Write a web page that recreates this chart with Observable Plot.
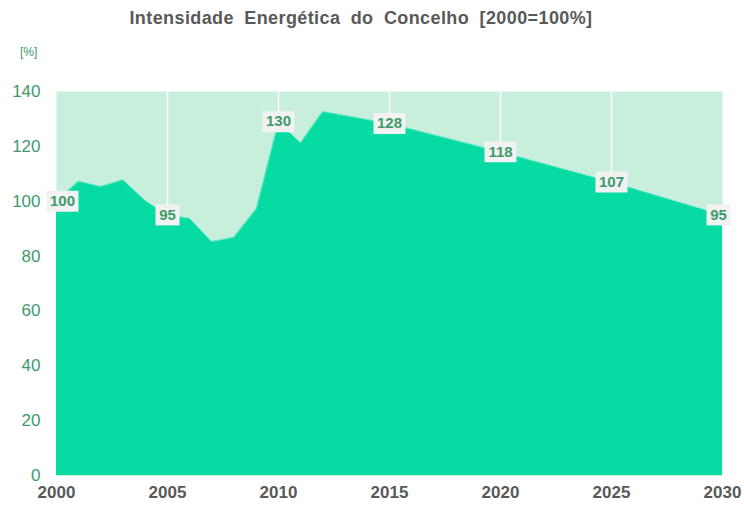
<!DOCTYPE html>
<html><head><meta charset="utf-8">
<script src="https://cdn.jsdelivr.net/npm/d3@7"></script>
<script src="https://cdn.jsdelivr.net/npm/@observablehq/plot@0.6"></script>
<style>
body{margin:0;background:#fff;font-family:"Liberation Sans",Arial,sans-serif;}
#wrap{position:relative;width:744px;height:505px;}
#title{position:absolute;left:0;width:722px;top:8px;text-align:center;font-weight:bold;font-size:18px;color:#595959;word-spacing:5px;letter-spacing:0.4px;}
#unit{position:absolute;left:20px;top:45px;font-size:12px;color:#3a9a66;}
#chart{position:absolute;left:0;top:0;}
</style></head><body>
<div id="wrap">
<div id="chart"></div>
<div id="title">Intensidade Energética do Concelho [2000=100%]</div>
<div id="unit">[%]</div>
</div>
<script>
const years = [2000,2001,2002,2003,2004,2005,2006,2007,2008,2009,2010,2011,2012,2015,2020,2025,2030];
const values = [100,107.3,105.4,107.8,100.3,95,93.8,85.3,86.9,97.2,129,121.3,132.7,128.3,118,107,95];
const labelYears = [2000,2005,2010,2015,2020,2025,2030];
const labelValues = [100,95,130,128,118,107,95];
const yTicks = [0,20,40,60,80,100,120,140];
const xTicks = [2000,2005,2010,2015,2020,2025,2030];
const gridYears = [2005,2010,2015,2020,2025];

const series = years.map((year,i)=>({year, value: values[i]}));
const labels = labelYears.map((year,i)=>({year, value: values[years.indexOf(year)], text: String(labelValues[i])}));

const boxSym = w => ({draw(ctx){ ctx.rect(-w/2, -10.5, w, 21); }});
const green = "#3d9b6a";
const labelMarks = (data, dx) => [
  Plot.dot(data.filter(d=>d.text.length===3), {x:"year", y:"value", dx, symbol: boxSym(32), fill:"#f2f2f2", stroke:null}),
  Plot.dot(data.filter(d=>d.text.length===2), {x:"year", y:"value", dx, symbol: boxSym(24), fill:"#f2f2f2", stroke:null}),
  Plot.text(data, {x:"year", y:"value", dx, text:"text", fill:green, fontWeight:"bold", fontSize:15})
];

const chart = Plot.plot({
  width: 744, height: 505,
  marginLeft: 56, marginRight: 22, marginTop: 91, marginBottom: 30,
  style: {fontFamily: "'Liberation Sans', Arial, sans-serif", background: "transparent", overflow: "visible"},
  x: {domain: [2000, 2030]},
  y: {domain: [0, 140]},
  marks: [
    Plot.frame({fill: "#c8eedc", stroke: null}),
    Plot.ruleX(gridYears, {y1: 0, y2: 140, stroke: "white", strokeWidth: 1.5}),
    Plot.areaY(series, {x: "year", y: "value", fill: "#06dba4"}),
    Plot.lineY(series, {x: "year", y: "value", stroke: "white", strokeOpacity: 0.4, strokeWidth: 1}),
    Plot.ruleY([0], {stroke: "#bff5e3", strokeWidth: 1}),
    ...labelMarks(labels.slice(1, -1), 0),
    ...labelMarks(labels.slice(0, 1), 6),
    ...labelMarks(labels.slice(-1), -4),
    Plot.axisY({ticks: yTicks, tickSize: 0, tickPadding: 16, label: null, fill: green, fontSize: 17}),
    Plot.axisX({ticks: xTicks, tickFormat: d => String(d), tickSize: 0, tickPadding: 10, label: null, fill: "#595959", fontSize: 17, fontWeight: "bold"})
  ]
});
document.getElementById("chart").appendChild(chart);
</script>
</body></html>
